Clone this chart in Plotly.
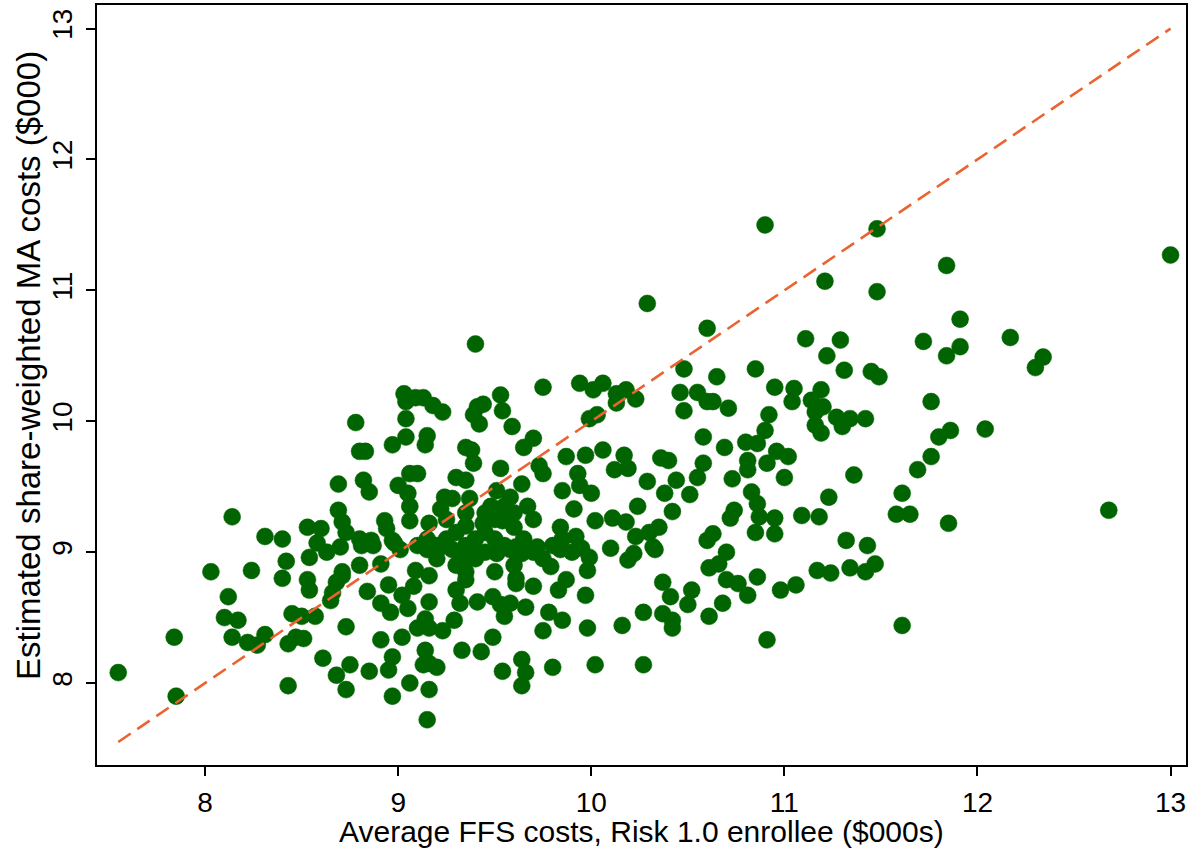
import plotly.graph_objects as go

# Average FFS costs, Risk 1.0 enrollee ($000s)
ffs_cost = [
    8.14, 8.31, 8.40, 8.03, 8.24, 8.12, 8.10, 8.17, 8.14, 8.22, 8.27, 8.31, 7.84, 7.55, 7.85, 8.43,
    8.61, 8.68, 8.73, 8.73, 8.65, 8.45, 8.50, 8.57, 8.47, 8.43, 8.51, 8.54, 8.53, 8.40, 8.42, 8.53,
    8.60, 8.69, 8.71, 8.58, 8.63, 8.70, 8.54, 8.71,
    9.03, 9.09, 9.13, 9.18, 9.23, 9.04, 9.04, 9.04, 8.97, 9.15, 9.14, 8.78, 8.83, 8.80, 8.69, 8.82,
    8.85, 9.06, 9.10, 9.00, 9.05, 9.06, 9.06, 8.93, 8.94, 8.73, 8.80, 8.86, 8.97, 9.01, 9.30, 9.35,
    9.24, 9.28, 9.37, 9.22, 9.35, 9.16, 9.35, 9.38, 9.39, 9.41, 9.44, 9.39, 9.42, 9.53, 9.54, 9.59,
    9.65, 9.53, 9.51, 9.58, 9.64, 9.67, 9.48, 9.44, 9.54, 9.60,
    9.40, 10.29, 10.60, 10.48,
    8.81, 8.87, 8.98, 9.10, 9.15, 9.22, 9.28, 9.34, 9.41, 9.51, 9.58, 9.64, 8.71, 8.80, 8.91, 8.68,
    8.66, 8.84, 8.95, 8.91, 8.96, 9.02, 9.05, 9.08, 9.09, 9.16, 9.16, 9.14, 9.10, 9.16, 9.23, 9.29,
    9.30, 9.32, 9.41, 9.35, 9.49, 9.53, 9.55, 9.58, 9.61, 9.66, 8.91, 9.02, 8.97, 8.95, 8.85, 8.75,
    8.97, 9.06, 9.16, 9.15, 9.14, 9.16, 9.13, 9.20, 9.33, 9.43, 9.49, 9.54, 9.64, 9.64, 9.66,
    9.75, 9.94, 10.01, 10.06, 10.13, 10.18, 10.23, 10.13, 9.99, 10.03, 10.46, 10.55, 10.48, 10.60,
    10.58, 9.70, 9.87, 9.97, 10.06, 10.17, 10.12, 10.19, 10.36, 10.40, 10.29, 10.38, 10.44, 10.55,
    10.58, 10.51, 9.73, 9.75, 9.93, 9.94, 10.00, 9.85, 9.91, 10.24, 10.42, 10.02, 10.11, 10.18,
    10.35, 10.30, 10.23, 10.32, 10.10, 9.92, 9.84, 10.60,
    9.61, 9.72, 9.84, 9.95, 9.99, 10.19, 10.22, 10.33, 9.79, 9.87, 9.98, 9.83, 9.70, 9.61, 9.97,
    9.78, 9.85, 9.75, 9.98, 10.16, 10.27, 10.37, 10.41, 10.52, 10.50, 10.37, 10.42, 10.42, 10.61,
    10.61, 9.80, 10.02, 10.27,
    11.11, 11.29, 11.22, 11.31, 11.45, 11.49, 10.85, 10.65, 10.95, 11.05, 11.04, 11.19, 11.14,
    11.20, 11.16, 11.27, 11.34, 11.42, 11.30, 11.16, 11.19, 10.63, 10.71, 10.92, 10.90, 10.69,
    10.80, 10.86, 10.81, 10.91, 10.96, 11.02, 10.81, 11.00, 10.73, 11.36, 11.23, 10.83, 10.86,
    10.74, 10.72, 10.87, 10.95, 10.95, 10.85, 11.09, 11.18, 11.32, 11.43, 10.63, 10.70,
    10.66, 10.70, 10.76, 10.86, 10.81, 10.68, 10.98, 11.06, 11.17, 11.24, 11.34, 11.42, 11.47,
    10.91,
    11.48, 11.84, 13.00, 11.48, 11.91, 11.72, 11.91, 11.84, 12.17, 12.34, 12.30, 11.76, 11.86,
    11.80, 12.04, 11.76, 11.69, 11.61,
    11.58, 11.65, 11.85, 12.68, 11.61,
    10.90, 11.21,
    9.25, 9.30, 9.35, 9.40, 9.45, 9.50, 9.55, 9.45, 9.40, 9.30, 9.20, 9.25, 9.50, 9.60, 9.70,
    9.65, 9.70, 9.75, 9.80, 9.85, 9.90, 9.20, 9.15, 9.35, 9.45, 9.55, 9.60, 9.50, 9.35,
]

# Estimated share-weighted MA costs ($000)
ma_cost = [
    9.27, 9.12, 9.10, 8.85, 8.86, 8.66, 8.50, 8.48, 8.35, 8.31, 8.29, 8.37, 8.35, 8.08, 7.90, 7.98,
    8.19, 8.06, 7.95, 8.43, 8.63, 8.53, 8.51, 8.51, 8.35, 8.30, 8.34, 8.71, 8.79, 8.80, 8.93, 9.19,
    9.18, 9.32, 9.23, 9.07, 9.00, 9.04, 8.96, 8.82,
    10.21, 10.18, 10.18, 10.12, 10.07, 10.15, 10.02, 9.88, 9.82, 9.89, 9.82, 9.99, 9.77, 9.77, 9.52, 9.55,
    9.46, 9.60, 9.60, 9.51, 9.45, 9.35, 9.24, 9.24, 9.18, 9.15, 9.10, 9.09, 9.09, 9.02, 9.57, 9.55,
    9.42, 9.41, 9.41, 9.33, 9.30, 9.22, 9.80, 9.78, 9.68, 10.11, 10.13, 10.05, 9.98, 10.20, 10.08, 9.96,
    9.80, 9.64, 9.47, 9.42, 9.52, 9.35, 9.35, 9.22, 9.24, 9.19,
    10.59, 10.90, 10.71, 10.40,
    9.05, 9.05, 9.07, 9.05, 9.02, 9.04, 9.02, 8.96, 8.99, 8.99, 9.02, 8.99, 8.85, 8.90, 8.91, 8.77,
    8.69, 8.70, 8.75, 8.61, 8.54, 8.67, 8.57, 8.74, 8.86, 8.82, 8.62, 8.49, 8.42, 8.42, 8.40, 8.48,
    8.71, 8.61, 8.62, 8.79, 8.66, 8.60, 8.51, 8.61, 8.76, 8.58, 8.33, 8.35, 8.20, 8.10, 8.09, 8.14,
    7.90, 8.00, 7.95, 7.72, 8.25, 8.15, 8.14, 8.12, 8.25, 8.24, 8.35, 8.09, 8.18, 7.98, 8.08,
    10.26, 10.29, 10.24, 10.29, 10.21, 10.24, 10.17, 10.14, 10.02, 10.05, 10.22, 10.22, 10.08, 10.15,
    9.88, 9.87, 9.73, 9.74, 9.78, 9.74, 9.63, 9.64, 9.72, 9.70, 9.54, 9.45, 9.55, 9.57,
    9.68, 9.44, 9.66, 9.60, 9.60, 9.51, 9.45, 9.47, 9.33, 9.35, 9.31, 9.24, 9.26, 9.23,
    9.19, 9.15, 9.12, 9.04, 9.03, 9.12, 9.19, 9.09,
    9.04, 9.04, 9.02, 9.03, 8.96, 8.94, 8.99, 9.02, 8.89, 8.79, 8.86, 8.71, 8.74, 8.80, 8.67,
    8.54, 8.48, 8.40, 8.42, 8.44, 8.54, 8.77, 8.66, 8.71, 8.60, 8.53, 8.48, 8.42, 8.88,
    8.51, 8.12, 8.14, 8.14,
    10.63, 10.62, 10.50, 10.39, 10.38, 10.34, 10.40, 10.34, 10.26, 10.25, 10.15, 10.24, 10.16,
    10.11, 10.07, 10.03, 10.02, 10.02, 9.96, 9.97, 9.91, 10.15, 10.10, 10.05, 9.93, 9.80,
    9.84, 9.83, 9.70, 9.68, 9.77, 9.73, 9.63, 9.57, 9.56, 9.59, 9.42, 9.46, 9.37,
    9.32, 9.26, 9.27, 9.26, 9.14, 9.15, 9.28, 9.27, 9.09, 9.05, 9.14, 9.00,
    8.91, 8.79, 8.76, 8.81, 8.67, 8.61, 8.71, 8.75, 8.86, 8.84, 8.88, 8.85, 8.91,
    8.33,
    11.47, 11.19, 11.27, 10.99, 10.78, 10.61, 10.57, 10.50, 10.64, 10.49, 10.41, 10.15, 9.93,
    9.88, 9.94, 9.73, 9.63, 9.45,
    9.29, 9.29, 9.22, 9.32, 8.44,
    11.50, 11.07,
    9.10, 9.15, 9.05, 9.10, 9.15, 9.10, 9.05, 9.00, 8.95, 8.90, 8.95, 9.25, 9.25, 9.30, 9.25,
    9.10, 9.00, 8.95, 9.05, 9.10, 9.00, 9.05, 9.10, 9.20, 9.30, 9.35, 8.90, 8.85, 8.85,
]

tick_vals = [8, 9, 10, 11, 12, 13]
tick_text = ["8", "9", "10", "11", "12", "13"]

x_title = "Average FFS costs, Risk 1.0 enrollee ($000s)"
y_title = "Estimated share-weighted MA costs ($000)"

n = min(len(ffs_cost), len(ma_cost))
xs = ffs_cost[:n]
ys = ma_cost[:n]

FONT = "Liberation Sans, Arial, Helvetica, sans-serif"
ML, MR, MT, MB = 97, 9, 5, 83
W, H = 1195, 848
PH = H - MT - MB

fig = go.Figure()
fig.add_trace(go.Scatter(
    x=xs, y=ys, mode="markers",
    marker=dict(size=17, color="#006400", line=dict(width=0.5, color="#006400")),
    showlegend=False, hoverinfo="x+y",
))
lo, hi = min(xs), max(xs)
fig.add_trace(go.Scatter(
    x=[lo, hi], y=[lo, hi], mode="lines",
    line=dict(color="#EA6330", width=2.6, dash="15px,8px"),
    showlegend=False, hoverinfo="skip",
))

axis_common = dict(
    showgrid=False, zeroline=False, showline=True, linecolor="black", linewidth=1.5,
    mirror=True, ticks="outside", ticklen=9, tickwidth=1.5, tickcolor="black",
    tickfont=dict(family=FONT, size=28, color="black"),
    tickvals=tick_vals, ticktext=tick_text, automargin=False,
)

fig.update_layout(
    width=W, height=H,
    margin=dict(l=ML, r=MR, t=MT, b=MB, autoexpand=False),
    paper_bgcolor="white", plot_bgcolor="white",
    font=dict(family=FONT, color="black"),
    xaxis=dict(range=[7.44, 13.08], ticklabelstandoff=3, **axis_common),
    yaxis=dict(range=[7.374, 13.18], tickangle=-90, ticklabelstandoff=3, **axis_common),
    annotations=[
        dict(text=x_title, xref="paper", yref="paper", x=0.5, y=0,
             xanchor="center", yanchor="middle", yshift=-(831 - (H - MB)),
             showarrow=False, font=dict(family=FONT, size=30, color="black")),
        dict(text=y_title, xref="paper", yref="paper", x=0, y=1 - (366 - MT) / PH,
             xanchor="center", yanchor="middle", xshift=-(ML - 28), textangle=-90,
             showarrow=False, font=dict(family=FONT, size=33, color="black")),
    ],
)

fig.write_html("out.html", config={"displayModeBar": False},
               post_script="document.body.style.margin='0px';")
